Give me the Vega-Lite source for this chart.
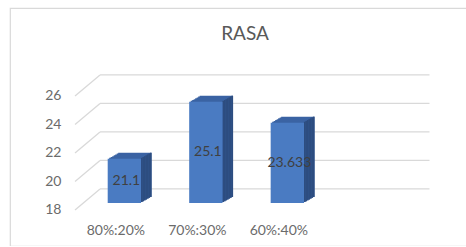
{
  "$schema": "https://vega.github.io/schema/vega-lite/v6.json",
  "width": 470,
  "height": 238,
  "autosize": "none",
  "padding": {"left": 10, "top": 8, "right": 0, "bottom": 0},
  "background": "white",
  "config": {"view": {"stroke": "#D9D9D9", "strokeWidth": 1.2}, "font": "Lato"},
  "title": {"text": "RASA", "fontSize": 19, "font": "Lato", "fontWeight": "normal", "color": "#595959", "anchor": "middle", "dy": 40},
  "datasets": {
    "bars": [
      {"ratio": "80%:20%", "rasa": 21.1},
      {"ratio": "70%:30%", "rasa": 25.1},
      {"ratio": "60%:40%", "rasa": 23.633}
    ],
    "grid": [{"v": 18}, {"v": 20}, {"v": 22}, {"v": 24}, {"v": 26}]
  },
  "resolve": {"scale": {"y": "independent"}},
  "layer": [
    {
      "layer": [
        {
          "data": {"name": "grid"},
          "mark": {"type": "rule", "color": "#D9D9D9", "strokeWidth": 1.3, "xOffset": -24.35, "x2Offset": 142.15, "yOffset": -14},
          "encoding": {
            "x": {"datum": "80%:20%", "type": "nominal"},
            "x2": {"datum": "60%:40%"},
            "y": {"field": "v", "type": "quantitative", "scale": {"domain": [14.975, 31.677], "nice": false, "zero": false}}
          }
        },
        {
          "data": {"name": "grid"},
          "mark": {"type": "rule", "color": "#D9D9D9", "strokeWidth": 1.3, "xOffset": -24.35, "yOffset": -14, "x2Offset": -49.35, "y2Offset": 7},
          "encoding": {
            "x": {"datum": "80%:20%", "type": "nominal"},
            "x2": {"datum": "80%:20%"},
            "y": {"field": "v", "type": "quantitative"},
            "y2": {"field": "v"}
          }
        },
        {"data": {"name": "bars"}, "mark": {"type": "bar", "color": "#3B63A3", "xOffset": 10.5, "yOffset": -6, "y2Offset": -6},
          "encoding": {"x": {"field": "ratio", "type": "nominal", "sort": null}, "y": {"field": "rasa", "type": "quantitative"}, "y2": {"datum": 18}}},
        {"data": {"name": "bars"}, "mark": {"type": "bar", "color": "#3B63A3", "xOffset": 9, "yOffset": -5.143, "y2Offset": -5.143},
          "encoding": {"x": {"field": "ratio", "type": "nominal", "sort": null}, "y": {"field": "rasa", "type": "quantitative"}, "y2": {"datum": 18}}},
        {"data": {"name": "bars"}, "mark": {"type": "bar", "color": "#3B63A3", "xOffset": 7.5, "yOffset": -4.286, "y2Offset": -4.286},
          "encoding": {"x": {"field": "ratio", "type": "nominal", "sort": null}, "y": {"field": "rasa", "type": "quantitative"}, "y2": {"datum": 18}}},
        {"data": {"name": "bars"}, "mark": {"type": "bar", "color": "#3B63A3", "xOffset": 6, "yOffset": -3.429, "y2Offset": -3.429},
          "encoding": {"x": {"field": "ratio", "type": "nominal", "sort": null}, "y": {"field": "rasa", "type": "quantitative"}, "y2": {"datum": 18}}},
        {"data": {"name": "bars"}, "mark": {"type": "bar", "color": "#3B63A3", "xOffset": 4.5, "yOffset": -2.571, "y2Offset": -2.571},
          "encoding": {"x": {"field": "ratio", "type": "nominal", "sort": null}, "y": {"field": "rasa", "type": "quantitative"}, "y2": {"datum": 18}}},
        {"data": {"name": "bars"}, "mark": {"type": "bar", "color": "#3B63A3", "xOffset": 3, "yOffset": -1.714, "y2Offset": -1.714},
          "encoding": {"x": {"field": "ratio", "type": "nominal", "sort": null}, "y": {"field": "rasa", "type": "quantitative"}, "y2": {"datum": 18}}},
        {"data": {"name": "bars"}, "mark": {"type": "bar", "color": "#3B63A3", "xOffset": 1.5, "yOffset": -0.857, "y2Offset": -0.857},
          "encoding": {"x": {"field": "ratio", "type": "nominal", "sort": null}, "y": {"field": "rasa", "type": "quantitative"}, "y2": {"datum": 18}}},
        {"data": {"name": "bars"}, "mark": {"type": "bar", "color": "#2D4D80", "width": 1.7, "xOffset": 26.4, "yOffset": -6, "y2Offset": -6},
          "encoding": {"x": {"field": "ratio", "type": "nominal", "sort": null}, "y": {"field": "rasa", "type": "quantitative"}, "y2": {"datum": 18}}},
        {"data": {"name": "bars"}, "mark": {"type": "bar", "color": "#2D4D80", "width": 1.7, "xOffset": 24.9, "yOffset": -5.143, "y2Offset": -5.143},
          "encoding": {"x": {"field": "ratio", "type": "nominal", "sort": null}, "y": {"field": "rasa", "type": "quantitative"}, "y2": {"datum": 18}}},
        {"data": {"name": "bars"}, "mark": {"type": "bar", "color": "#2D4D80", "width": 1.7, "xOffset": 23.4, "yOffset": -4.286, "y2Offset": -4.286},
          "encoding": {"x": {"field": "ratio", "type": "nominal", "sort": null}, "y": {"field": "rasa", "type": "quantitative"}, "y2": {"datum": 18}}},
        {"data": {"name": "bars"}, "mark": {"type": "bar", "color": "#2D4D80", "width": 1.7, "xOffset": 21.9, "yOffset": -3.429, "y2Offset": -3.429},
          "encoding": {"x": {"field": "ratio", "type": "nominal", "sort": null}, "y": {"field": "rasa", "type": "quantitative"}, "y2": {"datum": 18}}},
        {"data": {"name": "bars"}, "mark": {"type": "bar", "color": "#2D4D80", "width": 1.7, "xOffset": 20.4, "yOffset": -2.571, "y2Offset": -2.571},
          "encoding": {"x": {"field": "ratio", "type": "nominal", "sort": null}, "y": {"field": "rasa", "type": "quantitative"}, "y2": {"datum": 18}}},
        {"data": {"name": "bars"}, "mark": {"type": "bar", "color": "#2D4D80", "width": 1.7, "xOffset": 18.9, "yOffset": -1.714, "y2Offset": -1.714},
          "encoding": {"x": {"field": "ratio", "type": "nominal", "sort": null}, "y": {"field": "rasa", "type": "quantitative"}, "y2": {"datum": 18}}},
        {"data": {"name": "bars"}, "mark": {"type": "bar", "color": "#2D4D80", "width": 1.7, "xOffset": 17.4, "yOffset": -0.857, "y2Offset": -0.857},
          "encoding": {"x": {"field": "ratio", "type": "nominal", "sort": null}, "y": {"field": "rasa", "type": "quantitative"}, "y2": {"datum": 18}}},
        {
          "data": {"name": "bars"},
          "mark": {"type": "bar", "color": "#4A7BC2"},
          "encoding": {
            "x": {
              "field": "ratio", "type": "nominal", "sort": null,
              "scale": {"domain": ["80%:20%", "70%:30%", "60%:40%"], "range": [97.7, 294], "paddingInner": 0.591, "paddingOuter": 0},
              "axis": {"title": null, "domain": false, "ticks": false, "grid": false, "offset": -23, "labelPadding": 0, "labelOffset": -8.5, "labelAngle": 0, "labelAlign": "center", "labelBaseline": "top", "labelFont": "Lato", "labelFontSize": 14, "labelColor": "#6B6B6B"}
            },
            "y": {
              "field": "rasa", "type": "quantitative",
              "axis": {"title": null, "values": [18, 20, 22, 24, 26], "domain": false, "ticks": false, "grid": false, "offset": -55, "labelPadding": 4, "labelOffset": 7, "labelFont": "Lato", "labelFontSize": 14, "labelColor": "#6B6B6B"}
            },
            "y2": {"datum": 18}
          }
        }
      ]
    },
    {
      "data": {"name": "bars"},
      "mark": {"type": "text", "font": "Lato", "fontSize": 14, "color": "#404040", "baseline": "middle", "dx": 2},
      "encoding": {
        "x": {"field": "ratio", "type": "nominal", "sort": null},
        "y": {"field": "rasa", "type": "quantitative", "scale": {"domain": [11.95, 45.354], "nice": false, "zero": false}, "axis": null},
        "text": {"field": "rasa", "type": "quantitative", "format": ".6~g"}
      }
    }
  ]
}
